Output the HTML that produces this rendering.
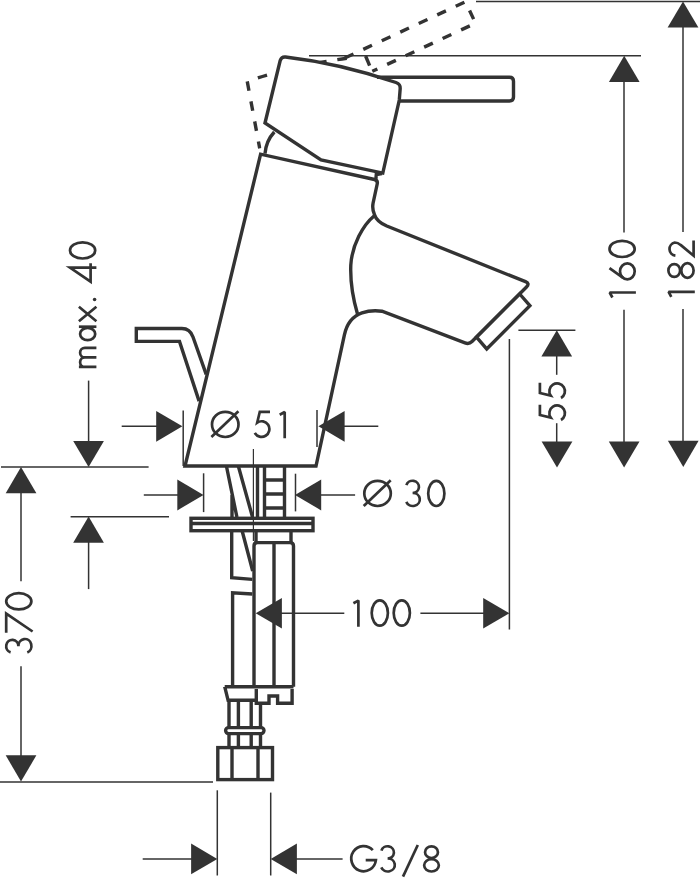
<!DOCTYPE html>
<html><head><meta charset="utf-8"><style>
html,body{margin:0;padding:0;background:#fff;width:700px;height:879px;overflow:hidden}
svg{display:block}
text{font-family:"Liberation Sans",sans-serif;font-size:39px;fill:#333}
</style></head><body>
<svg width="700" height="879" viewBox="0 0 700 879">
<defs>
<path id="hbody" d="M265,123 L280.2,60.5 Q281.5,56.5 285.5,57 Q340.5,63.4 396,82.5 Q400.5,84 400.2,88.5 L399.3,100 L382.8,173.1 L321,160 Z"/>
<path id="hbodyD" d="M265,123 L282,57 Q340.5,63.4 400,84 L399.3,100 L382.8,173.1 L321,160 Z"/>
<path id="lever" d="M377,77.3 L509.5,77.3 Q513.5,77.3 513.5,81.3 L513.5,97 Q513.5,101 509.5,101 L399.6,101"/>
<path id="leverD" d="M377,77 L513.5,77 L513.5,100.7 L399.6,100.7"/>
<g id="g0"><ellipse cx="9.3" cy="13.8" rx="8.1" ry="12.6"/></g>
<path id="g1" d="M0.6,4.1 L5.6,1.4 V27.6" stroke-linejoin="bevel"/>
<path id="g2" d="M1.4,8.2 A6.7,6.7 0 0 1 14.6,7.6 C14.6,10.2 13.6,11.8 12.2,13.4 L1.4,26.4 H16.7"/>
<path id="g3" d="M1.4,5.6 A6.4,6.1 0 1 1 7.6,13.4 M7.6,13.4 A7,6.5 0 1 1 1.3,22.3"/>
<path id="g4" d="M15.2,27.6 V1.2 L1.2,21.8 H19.6"/>
<path id="g5" d="M17.4,1.2 H7.2 L4.6,12 A7.8,7.8 0 1 1 2.2,22.3"/>
<g id="g6"><ellipse cx="9.15" cy="19.05" rx="7.95" ry="7.35"/><path d="M12.4,1.2 L2.6,14.8"/></g>
<path id="g7" d="M0,1.2 H19.1 L1.2,27.6"/>
<g id="g8"><ellipse cx="8.5" cy="7.05" rx="6.45" ry="5.85"/><ellipse cx="8.5" cy="20.25" rx="7.35" ry="6.15"/></g>
<path id="gG" d="M15.7,15 H25.9 A12.35,12.6 0 1 1 22.8,5.1"/>
<g id="gO"><ellipse cx="14.45" cy="13.8" rx="13.25" ry="12.6"/><path d="M0.6,26.3 L27.6,0.6"/></g>
<path id="gm" d="M1.3,27.6 V10.1 M1.3,16.05 A4.75,4.75 0 0 1 10.8,16.05 V27.6 M10.8,16.05 A4.75,4.75 0 0 1 20.3,16.05 V27.6"/>
<g id="ga"><ellipse cx="7.4" cy="18.85" rx="6.2" ry="7.55"/><path d="M14.7,10.1 V27.6"/></g>
<path id="gx" d="M1.2,10.1 L15.6,27.6 M15.6,10.1 L1.2,27.6"/>
</defs>
<!-- faucet drawing -->
<g stroke="#333" stroke-width="3.4" fill="none" stroke-linejoin="miter" stroke-linecap="butt">
<!-- dashed rotated handle -->
<g transform="rotate(-25 319.7 147.6)" stroke-dasharray="9.6 10.8" stroke-linejoin="miter">
<path d="M265,123 L282,57" stroke-dashoffset="2.5"/>
<path d="M282,57 Q340.5,63.4 400,84" stroke-dasharray="0 11.2 9.6 10.8 9.6 10.8 9.6 10.8 9.6 10.8 9.6 100"/>
<path d="M400,84 L399.3,100 L382.8,173.1" stroke-dasharray="10.5 200"/>
<use href="#leverD" stroke-dashoffset="17.1"/>
</g>
<!-- wedge fill between handle & body -->
<path fill="#fff" stroke="none" d="M265,123 L321,160 L382,173.5 L378,180 L260.6,154.2 Z"/>
<!-- pull rod -->
<path d="M199.1,401.1 L179.5,341.4 L136.3,341.4 L136.3,328.5 L181.9,328.5 Q190,328.5 193,337 L206.2,374.4"/>
<!-- body -->
<path fill="#fff" d="M185,466 L316,466 L344.4,334.8 C347,322.5 353,316 362,312.8 C368,310.8 374,310.2 382,311.2 L465,342.9 Q469,344.5 472,341.5 L526.5,287 Q530,283.5 525.5,281.7 L386.8,226 C380,223 375.5,218 374.4,214.4 C372.5,210 372.5,206 373.1,203 L377.2,184 Q378,180.5 374.5,179.5 L260.6,154.2 Z"/>
<!-- spout inner curve -->
<path d="M374.3,215.7 C363,225 352,245 350.8,265 C350,285 354,302 357.5,314"/>
<!-- aerator -->
<path fill="#fff" d="M519.7,294 L529.9,305.7 L486.7,348.9 L476.5,337.2 Z"/>
<path d="M274.3,132 Q266,141 265,153.7"/>
<path d="M382,173.5 L376.3,174.5 L375.9,179"/>
<!-- handle -->
<use href="#hbody" fill="#fff"/>
<use href="#lever"/>
<!-- below body: rod -->
<path d="M226.4,466 L236.9,517 M238.3,466 L252.5,517 M232,495 L232,517"/>
<!-- pipe top & ladder -->
<path d="M257.5,466 V517 M264.5,466 V517 M284.5,466 V517 M264.5,480 H284.5 M264.5,494 H284.5 M264.5,508 H284.5"/>
<!-- plate -->
<rect x="191" y="518.3" width="122" height="12.4" stroke-linejoin="miter"/>
<line x1="191" y1="523.5" x2="313" y2="523.5"/>
<!-- neck -->
<path d="M256,531 V542 M291,531 V542"/>
<!-- pipe -->
<path d="M254,686.7 V546 Q254,542.6 257.5,542.6 H290 Q293.5,542.6 293.5,546 V686.7 M274,542.6 V686.7"/>
<!-- left rod below plate -->
<path d="M231.7,531 V577.7 L252.3,579.4 M242.3,531.5 L252.7,571 M252.3,594 L232.6,592.8 V686.7"/>
<!-- collar -->
<path d="M224.7,686.7 H293.5 M224.7,686.7 L228.1,700.3 H256.3 M256.3,689 V703.2 H269 V696 H277.6 V703.2 H292.1 V689"/>
<!-- hose -->
<path d="M229,700 V728 M238.4,700 V728 M251.2,700 V728 M260.5,703 V728"/>
<rect x="225.6" y="727.6" width="38.4" height="6" rx="3"/>
<path d="M229,734 V747 M238.4,734 V747 M251.2,734 V747 M260.5,734 V747"/>
<!-- nut -->
<rect x="217.8" y="747.6" width="54.7" height="32" stroke-linejoin="miter"/>
<path d="M232,747.6 V779.6 M258,747.6 V779.6"/>
</g>
<!-- thin dimension lines -->
<g stroke="#333" stroke-width="1.5" fill="none">
<line x1="476" y1="1.5" x2="700" y2="1.5"/>
<line x1="309" y1="55.7" x2="641" y2="55.7"/>
<line x1="683" y1="20" x2="683" y2="232"/>
<line x1="683" y1="309" x2="683" y2="445"/>
<line x1="624" y1="75" x2="624" y2="232.6"/>
<line x1="624" y1="309.8" x2="624" y2="445"/>
<line x1="518.4" y1="330.3" x2="575.4" y2="330.3"/>
<line x1="556.7" y1="350" x2="556.7" y2="374.8"/>
<line x1="556.7" y1="423.2" x2="556.7" y2="445"/>
<line x1="509.4" y1="339" x2="509.4" y2="629.6"/>
<line x1="275" y1="613.3" x2="344.3" y2="613.3"/>
<line x1="420.4" y1="613.3" x2="490" y2="613.3"/>
<line x1="121.7" y1="426.3" x2="160" y2="426.3"/>
<line x1="183.2" y1="410.5" x2="183.2" y2="466"/>
<line x1="317" y1="410.1" x2="317" y2="447"/>
<line x1="340" y1="426.3" x2="378.3" y2="426.3"/>
<line x1="143.8" y1="495" x2="180" y2="495"/>
<line x1="203.6" y1="473.3" x2="203.6" y2="512.1"/>
<line x1="295.5" y1="473.7" x2="295.5" y2="511.4"/>
<line x1="318" y1="495" x2="355.1" y2="495"/>
<line x1="1" y1="467" x2="148.6" y2="467"/>
<line x1="70.6" y1="516.7" x2="169" y2="516.7"/>
<line x1="88.6" y1="380.6" x2="88.6" y2="445"/>
<line x1="88.6" y1="538" x2="88.6" y2="589.1"/>
<line x1="21" y1="488" x2="21" y2="581.2"/>
<line x1="21" y1="666.2" x2="21" y2="760"/>
<line x1="0" y1="782" x2="213" y2="782"/>
<line x1="217.3" y1="790.3" x2="217.3" y2="875.5"/>
<line x1="270.7" y1="792.6" x2="270.7" y2="875.5"/>
<line x1="142.7" y1="858.9" x2="195" y2="858.9"/>
<line x1="292" y1="858.9" x2="342.6" y2="858.9"/>
<line x1="253.4" y1="449" x2="253.4" y2="541" stroke-width="1.2"/>
</g>
<!-- arrowheads -->
<g fill="#333">
<polygon points="683.0,1.4 667.6,27.6 698.4,27.6"/>
<polygon points="683.3,466.9 667.9,440.7 698.6,440.7"/>
<polygon points="624.2,55.7 608.9,81.9 639.6,81.9"/>
<polygon points="624.1,467.6 608.8,441.4 639.5,441.4"/>
<polygon points="556.8,330.3 541.4,356.5 572.1,356.5"/>
<polygon points="557.0,467.6 541.6,441.4 572.4,441.4"/>
<polygon points="255.7,613.3 281.9,597.9 281.9,628.6"/>
<polygon points="509.4,613.3 483.2,597.9 483.2,628.6"/>
<polygon points="182.4,426.3 156.2,410.9 156.2,441.7"/>
<polygon points="318.4,426.3 344.6,410.9 344.6,441.7"/>
<polygon points="203.5,495.0 177.3,479.6 177.3,510.4"/>
<polygon points="295.0,495.0 321.2,479.6 321.2,510.4"/>
<polygon points="21.0,467.1 5.7,493.3 36.4,493.3"/>
<polygon points="21.0,781.5 5.7,755.3 36.4,755.3"/>
<polygon points="88.6,467.1 73.2,440.9 103.9,440.9"/>
<polygon points="88.6,516.6 73.2,542.8 103.9,542.8"/>
<polygon points="217.3,858.9 191.1,843.5 191.1,874.2"/>
<polygon points="270.7,858.9 296.9,843.5 296.9,874.2"/>
</g>
<!-- texts -->
<g stroke="#333" stroke-width="2.7" fill="none" stroke-linecap="butt" stroke-linejoin="miter">
<g transform="translate(0,599.2)"><use href="#g1" x="352.8"/><use href="#g0" x="370.5"/><use href="#g0" x="392.5"/></g>
<g transform="translate(0,410.6)"><use href="#gO" x="210.8"/><use href="#g5" x="252.6"/><use href="#g1" x="279.1"/></g>
<g transform="translate(0,479.6)"><use href="#gO" x="363.1"/><use href="#g3" x="405"/><use href="#g0" x="427"/></g>
<g transform="translate(0,845.1)"><use href="#gG" x="350"/><use href="#g3" x="380"/><use href="#g8" x="423"/></g>
<path d="M403,876.6 L417.8,845"/>
<g transform="translate(68.8,368.2) rotate(-90)"><use href="#gm" x="0"/><use href="#ga" x="26.8"/><use href="#gx" x="45.8"/><use href="#g4" x="85.3"/><use href="#g0" x="108.5"/><circle cx="68.7" cy="25.8" r="1.8" fill="#333" stroke="none"/></g>
<g transform="translate(608.3,297.9) rotate(-90)"><use href="#g1" x="-0.2"/><use href="#g6" x="17.4"/><use href="#g0" x="39.7"/></g>
<g transform="translate(667.2,297.1) rotate(-90)"><use href="#g1" x="-0.3"/><use href="#g8" x="18.1"/><use href="#g2" x="40"/></g>
<g transform="translate(538.7,422.2) rotate(-90)"><use href="#g5" x="0"/><use href="#g5" x="22"/></g>
<g transform="translate(5,653.8) rotate(-90)"><use href="#g3" x="0"/><use href="#g7" x="21.1"/><use href="#g0" x="43.2"/></g>
</g>

</svg>
</body></html>
